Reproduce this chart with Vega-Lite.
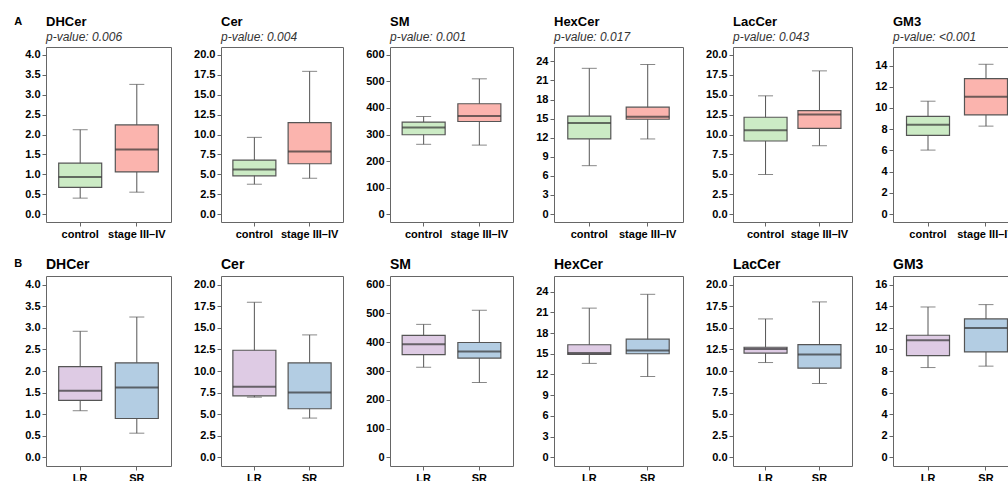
{
  "$schema": "https://vega.github.io/schema/vega-lite/v6.json",
  "padding": {"left": 14, "top": 15, "right": 0, "bottom": 0},
  "background": "white",
  "data": {"values": [
    {"row": "A", "lipid": "DHCer", "group": "control", "min": 0.40, "q1": 0.67, "median": 0.93, "q3": 1.28, "max": 2.12},
    {"row": "A", "lipid": "DHCer", "group": "stage III–IV", "min": 0.55, "q1": 1.06, "median": 1.62, "q3": 2.24, "max": 3.26},
    {"row": "A", "lipid": "Cer", "group": "control", "min": 3.75, "q1": 4.8, "median": 5.6, "q3": 6.78, "max": 9.64},
    {"row": "A", "lipid": "Cer", "group": "stage III–IV", "min": 4.5, "q1": 6.32, "median": 7.87, "q3": 11.5, "max": 17.94},
    {"row": "A", "lipid": "SM", "group": "control", "min": 263, "q1": 299, "median": 326, "q3": 347, "max": 368},
    {"row": "A", "lipid": "SM", "group": "stage III–IV", "min": 260, "q1": 349, "median": 370, "q3": 416, "max": 510},
    {"row": "A", "lipid": "HexCer", "group": "control", "min": 7.6, "q1": 11.8, "median": 14.3, "q3": 15.4, "max": 22.9},
    {"row": "A", "lipid": "HexCer", "group": "stage III–IV", "min": 11.8, "q1": 14.9, "median": 15.3, "q3": 16.8, "max": 23.5},
    {"row": "A", "lipid": "LacCer", "group": "control", "min": 4.97, "q1": 9.18, "median": 10.53, "q3": 12.17, "max": 14.86},
    {"row": "A", "lipid": "LacCer", "group": "stage III–IV", "min": 8.59, "q1": 10.78, "median": 12.5, "q3": 13.0, "max": 18.0},
    {"row": "A", "lipid": "GM3", "group": "control", "min": 6.03, "q1": 7.41, "median": 8.41, "q3": 9.2, "max": 10.64},
    {"row": "A", "lipid": "GM3", "group": "stage III–IV", "min": 8.29, "q1": 9.35, "median": 11.05, "q3": 12.77, "max": 14.12},
    {"row": "B", "lipid": "DHCer", "group": "LR", "min": 1.08, "q1": 1.32, "median": 1.54, "q3": 2.1, "max": 2.92},
    {"row": "B", "lipid": "DHCer", "group": "SR", "min": 0.56, "q1": 0.9, "median": 1.62, "q3": 2.19, "max": 3.25},
    {"row": "B", "lipid": "Cer", "group": "LR", "min": 6.97, "q1": 7.13, "median": 8.17, "q3": 12.4, "max": 17.96},
    {"row": "B", "lipid": "Cer", "group": "SR", "min": 4.55, "q1": 5.63, "median": 7.51, "q3": 10.94, "max": 14.18},
    {"row": "B", "lipid": "SM", "group": "LR", "min": 313, "q1": 357, "median": 393, "q3": 424, "max": 462},
    {"row": "B", "lipid": "SM", "group": "SR", "min": 260, "q1": 345, "median": 368, "q3": 399, "max": 511},
    {"row": "B", "lipid": "HexCer", "group": "LR", "min": 13.6, "q1": 14.9, "median": 15.1, "q3": 16.3, "max": 21.6},
    {"row": "B", "lipid": "HexCer", "group": "SR", "min": 11.7, "q1": 15.0, "median": 15.45, "q3": 17.1, "max": 23.6},
    {"row": "B", "lipid": "LacCer", "group": "LR", "min": 10.98, "q1": 12.06, "median": 12.56, "q3": 12.75, "max": 16.03},
    {"row": "B", "lipid": "LacCer", "group": "SR", "min": 8.55, "q1": 10.33, "median": 11.9, "q3": 13.06, "max": 18.0},
    {"row": "B", "lipid": "GM3", "group": "LR", "min": 8.32, "q1": 9.43, "median": 10.85, "q3": 11.31, "max": 13.93},
    {"row": "B", "lipid": "GM3", "group": "SR", "min": 8.45, "q1": 9.77, "median": 11.99, "q3": 12.82, "max": 14.15}
  ]},
  "spacing": 17,
  "vconcat": [
    {
      "title": {"text": "A", "orient": "left", "anchor": "end", "angle": 0, "fontSize": 11, "fontWeight": "bold", "offset": -6, "align": "right", "baseline": "top", "frame": "bounds"},
      "spacing": 21,
      "hconcat": [
        {
          "width": 125, "height": 175,
          "title": {"text": "DHCer", "subtitle": "p-value: 0.006"},
          "transform": [{"filter": "datum.row === 'A' && datum.lipid === 'DHCer'"}],
          "encoding": {"x": {"field": "group", "type": "nominal", "sort": ["control", "stage III–IV"], "title": null, "scale": {"paddingInner": 0, "paddingOuter": 0.104}, "axis": {"labelAngle": 0}}},
          "layer": [
            {"mark": {"type": "rule", "color": "#555555", "strokeWidth": 1}, "encoding": {"y": {"field": "min", "type": "quantitative", "title": null, "scale": {"domain": [-0.2, 4.2], "nice": false, "zero": false}, "axis": {"values": [0, 0.5, 1, 1.5, 2, 2.5, 3, 3.5, 4], "format": ".1f", "tickCount": 30}}, "y2": {"field": "max"}}},
            {"mark": {"type": "bar", "size": 43, "stroke": "#555555", "strokeWidth": 1.2}, "encoding": {"y": {"field": "q1", "type": "quantitative", "title": null}, "y2": {"field": "q3"}, "fill": {"field": "group", "type": "nominal", "scale": {"domain": ["control", "stage III–IV", "LR", "SR"], "range": ["#CCEBC5", "#FBB4AE", "#DECBE4", "#B3CDE3"]}, "legend": null}}},
            {"mark": {"type": "tick", "size": 43, "thickness": 2, "color": "#333333"}, "encoding": {"y": {"field": "median", "type": "quantitative", "title": null}}},
            {"mark": {"type": "tick", "size": 15, "thickness": 1, "color": "#555555"}, "encoding": {"y": {"field": "min", "type": "quantitative", "title": null}}},
            {"mark": {"type": "tick", "size": 15, "thickness": 1, "color": "#555555"}, "encoding": {"y": {"field": "max", "type": "quantitative", "title": null}}}
          ]
        },
        {
          "width": 122, "height": 175,
          "title": {"text": "Cer", "subtitle": "p-value: 0.004"},
          "transform": [{"filter": "datum.row === 'A' && datum.lipid === 'Cer'"}],
          "encoding": {"x": {"field": "group", "type": "nominal", "sort": ["control", "stage III–IV"], "title": null, "scale": {"paddingInner": 0, "paddingOuter": 0.104}, "axis": {"labelAngle": 0}}},
          "layer": [
            {"mark": {"type": "rule", "color": "#555555", "strokeWidth": 1}, "encoding": {"y": {"field": "min", "type": "quantitative", "title": null, "scale": {"domain": [-1, 21], "nice": false, "zero": false}, "axis": {"values": [0, 2.5, 5, 7.5, 10, 12.5, 15, 17.5, 20], "format": ".1f", "tickCount": 30}}, "y2": {"field": "max"}}},
            {"mark": {"type": "bar", "size": 43, "stroke": "#555555", "strokeWidth": 1.2}, "encoding": {"y": {"field": "q1", "type": "quantitative", "title": null}, "y2": {"field": "q3"}, "fill": {"field": "group", "type": "nominal", "scale": {"domain": ["control", "stage III–IV", "LR", "SR"], "range": ["#CCEBC5", "#FBB4AE", "#DECBE4", "#B3CDE3"]}, "legend": null}}},
            {"mark": {"type": "tick", "size": 43, "thickness": 2, "color": "#333333"}, "encoding": {"y": {"field": "median", "type": "quantitative", "title": null}}},
            {"mark": {"type": "tick", "size": 15, "thickness": 1, "color": "#555555"}, "encoding": {"y": {"field": "min", "type": "quantitative", "title": null}}},
            {"mark": {"type": "tick", "size": 15, "thickness": 1, "color": "#555555"}, "encoding": {"y": {"field": "max", "type": "quantitative", "title": null}}}
          ]
        },
        {
          "width": 123, "height": 175,
          "title": {"text": "SM", "subtitle": "p-value: 0.001"},
          "transform": [{"filter": "datum.row === 'A' && datum.lipid === 'SM'"}],
          "encoding": {"x": {"field": "group", "type": "nominal", "sort": ["control", "stage III–IV"], "title": null, "scale": {"paddingInner": 0, "paddingOuter": 0.104}, "axis": {"labelAngle": 0}}},
          "layer": [
            {"mark": {"type": "rule", "color": "#555555", "strokeWidth": 1}, "encoding": {"y": {"field": "min", "type": "quantitative", "title": null, "scale": {"domain": [-30, 630], "nice": false, "zero": false}, "axis": {"values": [0, 100, 200, 300, 400, 500, 600], "format": "d", "tickCount": 30}}, "y2": {"field": "max"}}},
            {"mark": {"type": "bar", "size": 43, "stroke": "#555555", "strokeWidth": 1.2}, "encoding": {"y": {"field": "q1", "type": "quantitative", "title": null}, "y2": {"field": "q3"}, "fill": {"field": "group", "type": "nominal", "scale": {"domain": ["control", "stage III–IV", "LR", "SR"], "range": ["#CCEBC5", "#FBB4AE", "#DECBE4", "#B3CDE3"]}, "legend": null}}},
            {"mark": {"type": "tick", "size": 43, "thickness": 2, "color": "#333333"}, "encoding": {"y": {"field": "median", "type": "quantitative", "title": null}}},
            {"mark": {"type": "tick", "size": 15, "thickness": 1, "color": "#555555"}, "encoding": {"y": {"field": "min", "type": "quantitative", "title": null}}},
            {"mark": {"type": "tick", "size": 15, "thickness": 1, "color": "#555555"}, "encoding": {"y": {"field": "max", "type": "quantitative", "title": null}}}
          ]
        },
        {
          "width": 129, "height": 175,
          "title": {"text": "HexCer", "subtitle": "p-value: 0.017"},
          "transform": [{"filter": "datum.row === 'A' && datum.lipid === 'HexCer'"}],
          "encoding": {"x": {"field": "group", "type": "nominal", "sort": ["control", "stage III–IV"], "title": null, "scale": {"paddingInner": 0, "paddingOuter": 0.104}, "axis": {"labelAngle": 0}}},
          "layer": [
            {"mark": {"type": "rule", "color": "#555555", "strokeWidth": 1}, "encoding": {"y": {"field": "min", "type": "quantitative", "title": null, "scale": {"domain": [-1.25, 26.25], "nice": false, "zero": false}, "axis": {"values": [0, 3, 6, 9, 12, 15, 18, 21, 24], "format": "d", "tickCount": 30}}, "y2": {"field": "max"}}},
            {"mark": {"type": "bar", "size": 43, "stroke": "#555555", "strokeWidth": 1.2}, "encoding": {"y": {"field": "q1", "type": "quantitative", "title": null}, "y2": {"field": "q3"}, "fill": {"field": "group", "type": "nominal", "scale": {"domain": ["control", "stage III–IV", "LR", "SR"], "range": ["#CCEBC5", "#FBB4AE", "#DECBE4", "#B3CDE3"]}, "legend": null}}},
            {"mark": {"type": "tick", "size": 43, "thickness": 2, "color": "#333333"}, "encoding": {"y": {"field": "median", "type": "quantitative", "title": null}}},
            {"mark": {"type": "tick", "size": 15, "thickness": 1, "color": "#555555"}, "encoding": {"y": {"field": "min", "type": "quantitative", "title": null}}},
            {"mark": {"type": "tick", "size": 15, "thickness": 1, "color": "#555555"}, "encoding": {"y": {"field": "max", "type": "quantitative", "title": null}}}
          ]
        },
        {
          "width": 119, "height": 175,
          "title": {"text": "LacCer", "subtitle": "p-value: 0.043"},
          "transform": [{"filter": "datum.row === 'A' && datum.lipid === 'LacCer'"}],
          "encoding": {"x": {"field": "group", "type": "nominal", "sort": ["control", "stage III–IV"], "title": null, "scale": {"paddingInner": 0, "paddingOuter": 0.104}, "axis": {"labelAngle": 0}}},
          "layer": [
            {"mark": {"type": "rule", "color": "#555555", "strokeWidth": 1}, "encoding": {"y": {"field": "min", "type": "quantitative", "title": null, "scale": {"domain": [-1, 21], "nice": false, "zero": false}, "axis": {"values": [0, 2.5, 5, 7.5, 10, 12.5, 15, 17.5, 20], "format": ".1f", "tickCount": 30}}, "y2": {"field": "max"}}},
            {"mark": {"type": "bar", "size": 43, "stroke": "#555555", "strokeWidth": 1.2}, "encoding": {"y": {"field": "q1", "type": "quantitative", "title": null}, "y2": {"field": "q3"}, "fill": {"field": "group", "type": "nominal", "scale": {"domain": ["control", "stage III–IV", "LR", "SR"], "range": ["#CCEBC5", "#FBB4AE", "#DECBE4", "#B3CDE3"]}, "legend": null}}},
            {"mark": {"type": "tick", "size": 43, "thickness": 2, "color": "#333333"}, "encoding": {"y": {"field": "median", "type": "quantitative", "title": null}}},
            {"mark": {"type": "tick", "size": 15, "thickness": 1, "color": "#555555"}, "encoding": {"y": {"field": "min", "type": "quantitative", "title": null}}},
            {"mark": {"type": "tick", "size": 15, "thickness": 1, "color": "#555555"}, "encoding": {"y": {"field": "max", "type": "quantitative", "title": null}}}
          ]
        },
        {
          "width": 128, "height": 175,
          "title": {"text": "GM3", "subtitle": "p-value: <0.001"},
          "transform": [{"filter": "datum.row === 'A' && datum.lipid === 'GM3'"}],
          "encoding": {"x": {"field": "group", "type": "nominal", "sort": ["control", "stage III–IV"], "title": null, "scale": {"paddingInner": 0, "paddingOuter": 0.104}, "axis": {"labelAngle": 0}}},
          "layer": [
            {"mark": {"type": "rule", "color": "#555555", "strokeWidth": 1}, "encoding": {"y": {"field": "min", "type": "quantitative", "title": null, "scale": {"domain": [-0.75, 15.75], "nice": false, "zero": false}, "axis": {"values": [0, 2, 4, 6, 8, 10, 12, 14], "format": "d", "tickCount": 30}}, "y2": {"field": "max"}}},
            {"mark": {"type": "bar", "size": 43, "stroke": "#555555", "strokeWidth": 1.2}, "encoding": {"y": {"field": "q1", "type": "quantitative", "title": null}, "y2": {"field": "q3"}, "fill": {"field": "group", "type": "nominal", "scale": {"domain": ["control", "stage III–IV", "LR", "SR"], "range": ["#CCEBC5", "#FBB4AE", "#DECBE4", "#B3CDE3"]}, "legend": null}}},
            {"mark": {"type": "tick", "size": 43, "thickness": 2, "color": "#333333"}, "encoding": {"y": {"field": "median", "type": "quantitative", "title": null}}},
            {"mark": {"type": "tick", "size": 15, "thickness": 1, "color": "#555555"}, "encoding": {"y": {"field": "min", "type": "quantitative", "title": null}}},
            {"mark": {"type": "tick", "size": 15, "thickness": 1, "color": "#555555"}, "encoding": {"y": {"field": "max", "type": "quantitative", "title": null}}}
          ]
        }
      ]
    },
    {
      "title": {"text": "B", "orient": "left", "anchor": "end", "angle": 0, "fontSize": 11, "fontWeight": "bold", "offset": -6, "align": "right", "baseline": "top", "frame": "bounds"},
      "spacing": 21,
      "hconcat": [
        {
          "width": 125, "height": 190,
          "title": {"text": "DHCer", "fontSize": 14},
          "transform": [{"filter": "datum.row === 'B' && datum.lipid === 'DHCer'"}],
          "encoding": {"x": {"field": "group", "type": "nominal", "sort": ["LR", "SR"], "title": null, "scale": {"paddingInner": 0, "paddingOuter": 0.104}, "axis": {"labelAngle": 0}}},
          "layer": [
            {"mark": {"type": "rule", "color": "#555555", "strokeWidth": 1}, "encoding": {"y": {"field": "min", "type": "quantitative", "title": null, "scale": {"domain": [-0.2, 4.2], "nice": false, "zero": false}, "axis": {"values": [0, 0.5, 1, 1.5, 2, 2.5, 3, 3.5, 4], "format": ".1f", "tickCount": 30}}, "y2": {"field": "max"}}},
            {"mark": {"type": "bar", "size": 43, "stroke": "#555555", "strokeWidth": 1.2}, "encoding": {"y": {"field": "q1", "type": "quantitative", "title": null}, "y2": {"field": "q3"}, "fill": {"field": "group", "type": "nominal", "scale": {"domain": ["control", "stage III–IV", "LR", "SR"], "range": ["#CCEBC5", "#FBB4AE", "#DECBE4", "#B3CDE3"]}, "legend": null}}},
            {"mark": {"type": "tick", "size": 43, "thickness": 2, "color": "#333333"}, "encoding": {"y": {"field": "median", "type": "quantitative", "title": null}}},
            {"mark": {"type": "tick", "size": 15, "thickness": 1, "color": "#555555"}, "encoding": {"y": {"field": "min", "type": "quantitative", "title": null}}},
            {"mark": {"type": "tick", "size": 15, "thickness": 1, "color": "#555555"}, "encoding": {"y": {"field": "max", "type": "quantitative", "title": null}}}
          ]
        },
        {
          "width": 122, "height": 190,
          "title": {"text": "Cer", "fontSize": 14},
          "transform": [{"filter": "datum.row === 'B' && datum.lipid === 'Cer'"}],
          "encoding": {"x": {"field": "group", "type": "nominal", "sort": ["LR", "SR"], "title": null, "scale": {"paddingInner": 0, "paddingOuter": 0.104}, "axis": {"labelAngle": 0}}},
          "layer": [
            {"mark": {"type": "rule", "color": "#555555", "strokeWidth": 1}, "encoding": {"y": {"field": "min", "type": "quantitative", "title": null, "scale": {"domain": [-1, 21], "nice": false, "zero": false}, "axis": {"values": [0, 2.5, 5, 7.5, 10, 12.5, 15, 17.5, 20], "format": ".1f", "tickCount": 30}}, "y2": {"field": "max"}}},
            {"mark": {"type": "bar", "size": 43, "stroke": "#555555", "strokeWidth": 1.2}, "encoding": {"y": {"field": "q1", "type": "quantitative", "title": null}, "y2": {"field": "q3"}, "fill": {"field": "group", "type": "nominal", "scale": {"domain": ["control", "stage III–IV", "LR", "SR"], "range": ["#CCEBC5", "#FBB4AE", "#DECBE4", "#B3CDE3"]}, "legend": null}}},
            {"mark": {"type": "tick", "size": 43, "thickness": 2, "color": "#333333"}, "encoding": {"y": {"field": "median", "type": "quantitative", "title": null}}},
            {"mark": {"type": "tick", "size": 15, "thickness": 1, "color": "#555555"}, "encoding": {"y": {"field": "min", "type": "quantitative", "title": null}}},
            {"mark": {"type": "tick", "size": 15, "thickness": 1, "color": "#555555"}, "encoding": {"y": {"field": "max", "type": "quantitative", "title": null}}}
          ]
        },
        {
          "width": 123, "height": 190,
          "title": {"text": "SM", "fontSize": 14},
          "transform": [{"filter": "datum.row === 'B' && datum.lipid === 'SM'"}],
          "encoding": {"x": {"field": "group", "type": "nominal", "sort": ["LR", "SR"], "title": null, "scale": {"paddingInner": 0, "paddingOuter": 0.104}, "axis": {"labelAngle": 0}}},
          "layer": [
            {"mark": {"type": "rule", "color": "#555555", "strokeWidth": 1}, "encoding": {"y": {"field": "min", "type": "quantitative", "title": null, "scale": {"domain": [-30, 630], "nice": false, "zero": false}, "axis": {"values": [0, 100, 200, 300, 400, 500, 600], "format": "d", "tickCount": 30}}, "y2": {"field": "max"}}},
            {"mark": {"type": "bar", "size": 43, "stroke": "#555555", "strokeWidth": 1.2}, "encoding": {"y": {"field": "q1", "type": "quantitative", "title": null}, "y2": {"field": "q3"}, "fill": {"field": "group", "type": "nominal", "scale": {"domain": ["control", "stage III–IV", "LR", "SR"], "range": ["#CCEBC5", "#FBB4AE", "#DECBE4", "#B3CDE3"]}, "legend": null}}},
            {"mark": {"type": "tick", "size": 43, "thickness": 2, "color": "#333333"}, "encoding": {"y": {"field": "median", "type": "quantitative", "title": null}}},
            {"mark": {"type": "tick", "size": 15, "thickness": 1, "color": "#555555"}, "encoding": {"y": {"field": "min", "type": "quantitative", "title": null}}},
            {"mark": {"type": "tick", "size": 15, "thickness": 1, "color": "#555555"}, "encoding": {"y": {"field": "max", "type": "quantitative", "title": null}}}
          ]
        },
        {
          "width": 129, "height": 190,
          "title": {"text": "HexCer", "fontSize": 14},
          "transform": [{"filter": "datum.row === 'B' && datum.lipid === 'HexCer'"}],
          "encoding": {"x": {"field": "group", "type": "nominal", "sort": ["LR", "SR"], "title": null, "scale": {"paddingInner": 0, "paddingOuter": 0.104}, "axis": {"labelAngle": 0}}},
          "layer": [
            {"mark": {"type": "rule", "color": "#555555", "strokeWidth": 1}, "encoding": {"y": {"field": "min", "type": "quantitative", "title": null, "scale": {"domain": [-1.25, 26.25], "nice": false, "zero": false}, "axis": {"values": [0, 3, 6, 9, 12, 15, 18, 21, 24], "format": "d", "tickCount": 30}}, "y2": {"field": "max"}}},
            {"mark": {"type": "bar", "size": 43, "stroke": "#555555", "strokeWidth": 1.2}, "encoding": {"y": {"field": "q1", "type": "quantitative", "title": null}, "y2": {"field": "q3"}, "fill": {"field": "group", "type": "nominal", "scale": {"domain": ["control", "stage III–IV", "LR", "SR"], "range": ["#CCEBC5", "#FBB4AE", "#DECBE4", "#B3CDE3"]}, "legend": null}}},
            {"mark": {"type": "tick", "size": 43, "thickness": 2, "color": "#333333"}, "encoding": {"y": {"field": "median", "type": "quantitative", "title": null}}},
            {"mark": {"type": "tick", "size": 15, "thickness": 1, "color": "#555555"}, "encoding": {"y": {"field": "min", "type": "quantitative", "title": null}}},
            {"mark": {"type": "tick", "size": 15, "thickness": 1, "color": "#555555"}, "encoding": {"y": {"field": "max", "type": "quantitative", "title": null}}}
          ]
        },
        {
          "width": 119, "height": 190,
          "title": {"text": "LacCer", "fontSize": 14},
          "transform": [{"filter": "datum.row === 'B' && datum.lipid === 'LacCer'"}],
          "encoding": {"x": {"field": "group", "type": "nominal", "sort": ["LR", "SR"], "title": null, "scale": {"paddingInner": 0, "paddingOuter": 0.104}, "axis": {"labelAngle": 0}}},
          "layer": [
            {"mark": {"type": "rule", "color": "#555555", "strokeWidth": 1}, "encoding": {"y": {"field": "min", "type": "quantitative", "title": null, "scale": {"domain": [-1, 21], "nice": false, "zero": false}, "axis": {"values": [0, 2.5, 5, 7.5, 10, 12.5, 15, 17.5, 20], "format": ".1f", "tickCount": 30}}, "y2": {"field": "max"}}},
            {"mark": {"type": "bar", "size": 43, "stroke": "#555555", "strokeWidth": 1.2}, "encoding": {"y": {"field": "q1", "type": "quantitative", "title": null}, "y2": {"field": "q3"}, "fill": {"field": "group", "type": "nominal", "scale": {"domain": ["control", "stage III–IV", "LR", "SR"], "range": ["#CCEBC5", "#FBB4AE", "#DECBE4", "#B3CDE3"]}, "legend": null}}},
            {"mark": {"type": "tick", "size": 43, "thickness": 2, "color": "#333333"}, "encoding": {"y": {"field": "median", "type": "quantitative", "title": null}}},
            {"mark": {"type": "tick", "size": 15, "thickness": 1, "color": "#555555"}, "encoding": {"y": {"field": "min", "type": "quantitative", "title": null}}},
            {"mark": {"type": "tick", "size": 15, "thickness": 1, "color": "#555555"}, "encoding": {"y": {"field": "max", "type": "quantitative", "title": null}}}
          ]
        },
        {
          "width": 128, "height": 190,
          "title": {"text": "GM3", "fontSize": 14},
          "transform": [{"filter": "datum.row === 'B' && datum.lipid === 'GM3'"}],
          "encoding": {"x": {"field": "group", "type": "nominal", "sort": ["LR", "SR"], "title": null, "scale": {"paddingInner": 0, "paddingOuter": 0.104}, "axis": {"labelAngle": 0}}},
          "layer": [
            {"mark": {"type": "rule", "color": "#555555", "strokeWidth": 1}, "encoding": {"y": {"field": "min", "type": "quantitative", "title": null, "scale": {"domain": [-0.8, 16.8], "nice": false, "zero": false}, "axis": {"values": [0, 2, 4, 6, 8, 10, 12, 14, 16], "format": "d", "tickCount": 30}}, "y2": {"field": "max"}}},
            {"mark": {"type": "bar", "size": 43, "stroke": "#555555", "strokeWidth": 1.2}, "encoding": {"y": {"field": "q1", "type": "quantitative", "title": null}, "y2": {"field": "q3"}, "fill": {"field": "group", "type": "nominal", "scale": {"domain": ["control", "stage III–IV", "LR", "SR"], "range": ["#CCEBC5", "#FBB4AE", "#DECBE4", "#B3CDE3"]}, "legend": null}}},
            {"mark": {"type": "tick", "size": 43, "thickness": 2, "color": "#333333"}, "encoding": {"y": {"field": "median", "type": "quantitative", "title": null}}},
            {"mark": {"type": "tick", "size": 15, "thickness": 1, "color": "#555555"}, "encoding": {"y": {"field": "min", "type": "quantitative", "title": null}}},
            {"mark": {"type": "tick", "size": 15, "thickness": 1, "color": "#555555"}, "encoding": {"y": {"field": "max", "type": "quantitative", "title": null}}}
          ]
        }
      ]
    }
  ],
  "config": {
    "font": "Liberation Sans",
    "view": {"stroke": "#666666", "strokeWidth": 1},
    "axis": {"grid": false, "domain": false, "ticks": true, "tickColor": "#666666", "tickSize": 4, "tickWidth": 1, "labelFont": "Liberation Sans", "labelFontWeight": "bold", "labelFontSize": 11, "labelColor": "#000000", "labelPadding": 2, "labelOverlap": false},
    "title": {"anchor": "start", "frame": "group", "font": "Liberation Sans", "fontSize": 13, "fontWeight": "bold", "color": "#000000", "offset": 4, "subtitleFont": "Liberation Sans", "subtitleFontSize": 12, "subtitleFontStyle": "italic", "subtitleColor": "#333333", "subtitlePadding": 3}
  }
}
